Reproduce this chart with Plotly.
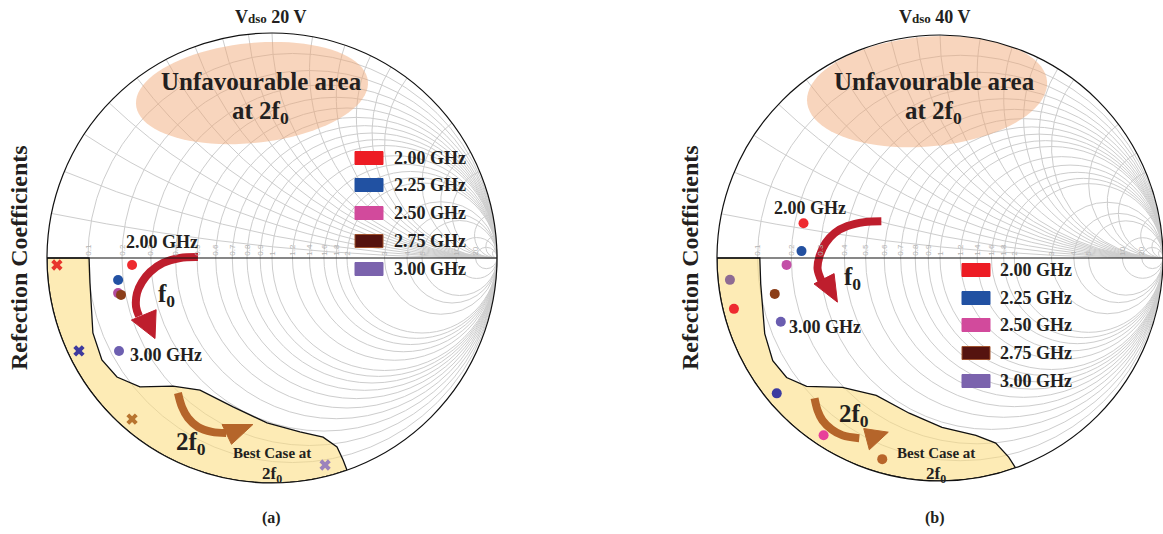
import numpy as np
import plotly.graph_objects as go

W, H = 1163, 534

# ---------------- data ----------------
freq_labels = ["2.00 GHz", "2.25 GHz", "2.50 GHz", "2.75 GHz", "3.00 GHz"]
legend_colors = ["#ED1C24", "#2151A2", "#D24A9C", "#55130F", "#7B63AD"]

# (a) Vdso 20 V : reflection coefficients (Gamma) at f0
a_f0_re = [-0.622, -0.684, -0.684, -0.671, -0.680]
a_f0_im = [-0.031, -0.098, -0.156, -0.164, -0.413]
a_f0_colors = ["#EE2A2E", "#2251A3", "#B24C9E", "#8B3E1A", "#6D5FB0"]
# (a) reflection coefficients at 2f0
a_2f0_freqs = ["2.00 GHz", "2.25 GHz", "2.75 GHz", "3.00 GHz"]
a_2f0_re = [-0.956, -0.858, -0.622, 0.236]
a_2f0_im = [-0.031, -0.413, -0.716, -0.920]
a_2f0_colors = ["#E8362C", "#3E3A9E", "#B8742F", "#9C84BC"]

# (b) Vdso 40 V : reflection coefficients at f0
b_f0_re = [-0.612, -0.621, -0.688, -0.741, -0.714]
b_f0_im = [0.156, 0.031, -0.031, -0.161, -0.286]
b_f0_colors = ["#EE2A2F", "#2350A0", "#C34FA7", "#8B3D17", "#6A5DB0"]
# (b) reflection coefficients at 2f0
b_2f0_re = [-0.924, -0.732, -0.522, -0.259, -0.942]
b_2f0_im = [-0.228, -0.607, -0.795, -0.902, -0.098]
b_2f0_colors = ["#EE2A2F", "#3B3BA0", "#E8409A", "#B8652A", "#8E6B93"]

# favourable 2f0 region outline (Gamma plane, inner edge)
region_a_re = [-1.0, -0.813, -0.809, -0.796, -0.756, -0.689, -0.587, -0.44, -0.32,
               -0.173, -0.022, 0.124, 0.227, 0.289, 0.316, 0.333]
region_a_im = [0.0, 0.0, -0.111, -0.333, -0.453, -0.529, -0.573, -0.569, -0.587,
               -0.662, -0.733, -0.773, -0.796, -0.84, -0.898, -0.942]
region_b_re = [-1.0, -0.808, -0.804, -0.786, -0.75, -0.688, -0.598, -0.4375, -0.286,
               -0.138, 0.009, 0.161, 0.25, 0.308, 0.339]
region_b_im = [0.0, 0.0, -0.116, -0.339, -0.46, -0.536, -0.576, -0.58, -0.616,
               -0.696, -0.759, -0.795, -0.83, -0.893, -0.941]

# arrows (Gamma plane)
a_red_re = [-0.329, -0.409, -0.484, -0.542, -0.578, -0.600, -0.604, -0.591]
a_red_im = [0.004, 0.0, -0.022, -0.062, -0.107, -0.156, -0.218, -0.258]
a_red_head_re = [-0.625, -0.515, -0.520]
a_red_head_im = [-0.276, -0.230, -0.358]
a_brn_re = [-0.418, -0.400, -0.373, -0.329, -0.267, -0.204]
a_brn_im = [-0.600, -0.662, -0.711, -0.751, -0.773, -0.778]
a_brn_head_re = [-0.222, -0.085, -0.180]
a_brn_head_im = [-0.740, -0.740, -0.828]

b_red_re = [-0.263, -0.339, -0.415, -0.473, -0.513, -0.540, -0.549, -0.531]
b_red_im = [0.165, 0.161, 0.143, 0.112, 0.067, 0.009, -0.049, -0.103]
b_red_head_re = [-0.565, -0.475, -0.460]
b_red_head_im = [-0.116, -0.070, -0.198]
b_brn_re = [-0.5625, -0.549, -0.527, -0.487, -0.4375, -0.362]
b_brn_im = [-0.629, -0.683, -0.728, -0.768, -0.795, -0.808]
b_brn_head_re = [-0.342, -0.232, -0.317]
b_brn_head_im = [-0.765, -0.781, -0.860]

real_grid = [0.1, 0.2, 0.3, 0.4, 0.5, 0.6, 0.7, 0.8, 0.9, 1.0, 1.2, 1.4, 1.6, 1.8,
             2.0, 3.0, 4.0, 5.0, 10, 20]
imag_grid = [0.1, 0.2, 0.3, 0.4, 0.5, 0.6, 0.7, 0.8, 0.9, 1.0, 1.2, 1.4, 1.6, 1.8,
             2.0, 3.0, 4.0, 5.0, 10, 20, 50]


# ---------------- helpers ----------------
def to_z(gr, gi):
    g = np.asarray(gr, dtype=float) + 1j * np.asarray(gi, dtype=float)
    z = (1 + g) / (1 - g)
    return np.maximum(z.real, 0.0).tolist(), z.imag.tolist()


def ellipse(cx, cy, rx, ry, tilt_deg, n=90):
    t = np.linspace(0, 2 * np.pi, n)
    a = np.deg2rad(tilt_deg)
    x = rx * np.cos(t)
    y = ry * np.sin(t)
    return cx + x * np.cos(a) - y * np.sin(a), cy + x * np.sin(a) + y * np.cos(a)


def region(re_list, im_list):
    end_ang = np.degrees(np.arctan2(im_list[-1], re_list[-1]))
    ang = np.deg2rad(np.linspace(end_ang, -180.0, 60))
    re = list(re_list) + np.cos(ang).tolist()
    im = list(im_list) + np.sin(ang).tolist()
    return re, im


fig = go.Figure()


def add_panel(sub, ell, reg_re, reg_im, red, red_head, brn, brn_head,
              f0_re, f0_im, f0_cols, f0_names, h_re, h_im, h_cols, h_names, h_symbol):
    ex, ey = ellipse(*ell)
    r, x = to_z(ex, ey)
    fig.add_trace(go.Scattersmith(real=r, imag=x, subplot=sub, mode="lines",
                                  fill="toself", fillcolor="rgba(240,168,118,0.48)",
                                  line=dict(width=0, color="rgba(0,0,0,0)"),
                                  hoverinfo="skip", showlegend=False))
    rr, ri = region(reg_re, reg_im)
    r, x = to_z(rr, ri)
    fig.add_trace(go.Scattersmith(real=r, imag=x, subplot=sub, mode="lines",
                                  fill="toself", fillcolor="rgba(252,220,128,0.58)",
                                  line=dict(width=1.3, color="#111111"),
                                  hoverinfo="skip", showlegend=False))
    for (sre, sim), (hre, him), col in [(red, red_head, "#BE1E2D"), (brn, brn_head, "#B5652A")]:
        r, x = to_z(sre, sim)
        fig.add_trace(go.Scattersmith(real=r, imag=x, subplot=sub, mode="lines",
                                      line=dict(width=8, color=col, shape="spline"),
                                      hoverinfo="skip", showlegend=False))
        r, x = to_z(hre + [hre[0]], him + [him[0]])
        fig.add_trace(go.Scattersmith(real=r, imag=x, subplot=sub, mode="lines",
                                      fill="toself", fillcolor=col,
                                      line=dict(width=1, color=col),
                                      hoverinfo="skip", showlegend=False))
    r, x = to_z(f0_re, f0_im)
    fig.add_trace(go.Scattersmith(real=r, imag=x, subplot=sub, mode="markers",
                                  marker=dict(size=10, color=f0_cols, line=dict(width=0)),
                                  text=f0_names, name="f0", showlegend=False))
    r, x = to_z(h_re, h_im)
    fig.add_trace(go.Scattersmith(real=r, imag=x, subplot=sub, mode="markers",
                                  marker=dict(size=10, color=h_cols, symbol=h_symbol,
                                              line=dict(width=0)),
                                  text=h_names, name="2f0", showlegend=False))


add_panel("smith", (-0.089, 0.733, 0.518, 0.222, 6),
          region_a_re, region_a_im,
          (a_red_re, a_red_im), (a_red_head_re, a_red_head_im),
          (a_brn_re, a_brn_im), (a_brn_head_re, a_brn_head_im),
          a_f0_re, a_f0_im, a_f0_colors, freq_labels,
          a_2f0_re, a_2f0_im, a_2f0_colors, a_2f0_freqs, "x")
add_panel("smith2", (-0.058, 0.746, 0.540, 0.246, 5),
          region_b_re, region_b_im,
          (b_red_re, b_red_im), (b_red_head_re, b_red_head_im),
          (b_brn_re, b_brn_im), (b_brn_head_re, b_brn_head_im),
          b_f0_re, b_f0_im, b_f0_colors, freq_labels,
          b_2f0_re, b_2f0_im, b_2f0_colors, freq_labels, "circle")


def smith_layout(x0, x1):
    return dict(
        domain=dict(x=[x0 / W, x1 / W], y=[1 - 483 / H, 1 - 33 / H]),
        bgcolor="rgba(0,0,0,0)",
        realaxis=dict(tickvals=real_grid, showgrid=True, gridcolor="#CDCDCD", gridwidth=1,
                      showline=True, linecolor="#111111", linewidth=1.2,
                      ticks="", side="top", tickangle=-90,
                      tickfont=dict(size=8, color="#B4B4B4", family="Liberation Sans")),
        imaginaryaxis=dict(tickvals=imag_grid, showgrid=True, gridcolor="#CDCDCD", gridwidth=1,
                           showline=True, linecolor="#111111", linewidth=1.2,
                           ticks="", showticklabels=False),
    )


FONT = "Liberation Serif"
TXT = "#231F20"
annotations = []
shapes = []


def ann(px, py, text, size, xanchor="center", angle=0):
    annotations.append(dict(x=px / W, y=1 - py / H, xref="paper", yref="paper",
                            text=text, showarrow=False, xanchor=xanchor, yanchor="middle",
                            textangle=angle,
                            font=dict(family=FONT, size=size, color=TXT)))


# panel texts
for cx, v, lab in [(270, "20", "(a)"), (934, "40", "(b)")]:
    ann(cx, 17, "<b>V<span style='font-size:13px'>dso</span> %s V</b>" % v, 18)
    ann(cx + 1, 518, "<b>%s</b>" % lab, 16)
ann(19, 258, "<b>Refection Coefficients</b>", 24, angle=-90)
ann(690, 258, "<b>Refection Coefficients</b>", 24, angle=-90)

# (a)
ann(261, 82, "<b>Unfavourable area</b>", 25)
ann(260, 113, "<b>at 2f<sub>0</sub></b>", 25)
ann(162, 242, "<b>2.00 GHz</b>", 18)
ann(166, 355, "<b>3.00 GHz</b>", 18)
ann(166, 295, "<b>f<sub>0</sub></b>", 25)
ann(191, 443, "<b>2f<sub>0</sub></b>", 25)
ann(272, 453, "<b>Best Case at</b>", 15)
ann(272, 475, "<b>2f<sub>0</sub></b>", 17)
# (b)
ann(934, 82, "<b>Unfavourable area</b>", 25)
ann(933, 113, "<b>at 2f<sub>0</sub></b>", 25)
ann(810, 208, "<b>2.00 GHz</b>", 18)
ann(825, 327, "<b>3.00 GHz</b>", 18)
ann(852, 278, "<b>f<sub>0</sub></b>", 25)
ann(854, 415, "<b>2f<sub>0</sub></b>", 25)
ann(936, 453, "<b>Best Case at</b>", 15)
ann(936, 475, "<b>2f<sub>0</sub></b>", 17)

# legends
for bx, tx, rows in [(355, 392, [158, 185, 213, 241, 269]), (962, 998, [270, 298, 325, 353, 381])]:
    for lab, col, ry in zip(freq_labels, legend_colors, rows):
        edge = "#A0522D" if lab == "2.75 GHz" else col
        shapes.append(dict(type="rect", xref="paper", yref="paper",
                           x0=bx / W, x1=(bx + 28) / W, y0=1 - (ry + 6.5) / H, y1=1 - (ry - 6.5) / H,
                           fillcolor=col, line=dict(color=edge, width=1)))
        ann(tx, ry, "<b>%s</b>" % lab, 18, xanchor="left")

fig.update_layout(
    width=W, height=H,
    margin=dict(l=0, r=0, t=0, b=0, pad=0),
    paper_bgcolor="white", plot_bgcolor="white",
    smith=smith_layout(47, 497),
    smith2=smith_layout(717, 1163),
    annotations=annotations, shapes=shapes,
    showlegend=False,
)

fig.write_html("out.html", config={"displayModeBar": False},
               post_script="document.body.style.margin='0';document.body.style.overflow='hidden';")
